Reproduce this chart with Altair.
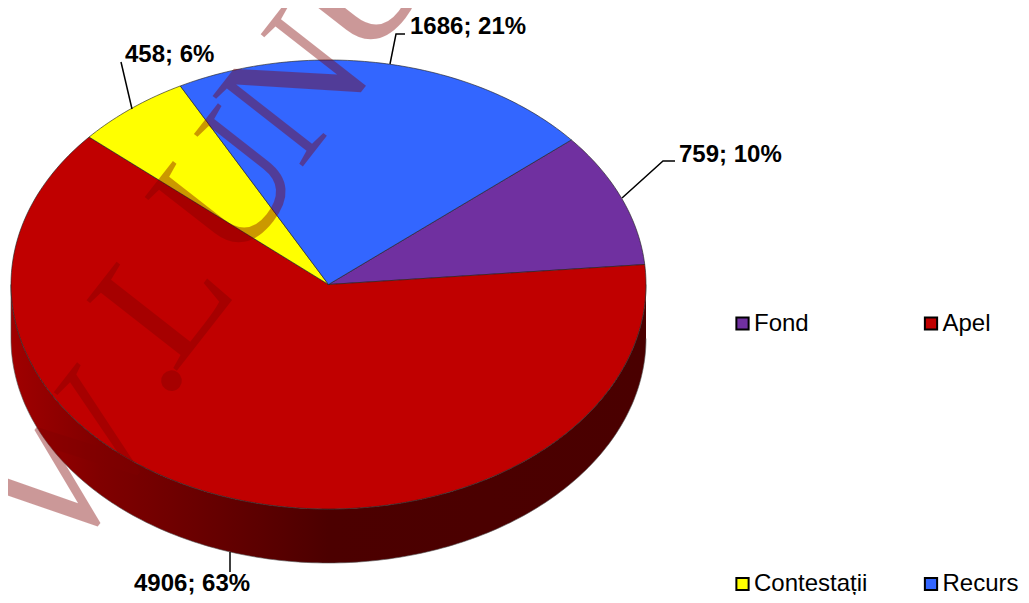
import math
import altair as alt
import pandas as pd

categories = ["Fond", "Apel", "Contestații", "Recurs"]
values = [759, 4906, 458, 1686]
percents = [10, 63, 6, 21]
colors = ["#7030A0", "#C00000", "#FFFF00", "#3366FF"]

# pie geometry (page pixels)
W, H = 1013, 587
CX, CY, RX, RY, DEPTH = 328.5, 284.5, 317.5, 224.5, 54
START = 49.9
total = sum(values)

X = alt.X("x:Q", scale=alt.Scale(domain=[8, 8 + W], nice=False, zero=False), axis=None)
Y = alt.Y("y:Q", scale=alt.Scale(domain=[8, 8 + H], reverse=True, nice=False, zero=False), axis=None)


def pt(deg, dy=0.0):
    r = math.radians(deg)
    return CX + RX * math.sin(r), CY - RY * math.cos(r) + dy


layers = []

# side wall
wall = []
for d in range(90, 271):
    wall.append(pt(d))
for d in range(270, 89, -1):
    wall.append(pt(d, DEPTH))
wall_df = pd.DataFrame(wall, columns=["x", "y"]).assign(i=range(len(wall)))
grad = alt.Gradient(
    gradient="linear", x1=0, x2=1, y1=0, y2=0,
    stops=[
        alt.GradientStop(color="#A00000", offset=0),
        alt.GradientStop(color="#800000", offset=0.14),
        alt.GradientStop(color="#4C0000", offset=0.5),
        alt.GradientStop(color="#4A0000", offset=1),
    ],
)
layers.append(
    alt.Chart(wall_df).mark_line(fill=grad, stroke="#555555", strokeWidth=0.6).encode(x=X, y=Y, order="i:Q")
)

# top slices
a = START
for cat, v, col in zip(categories, values, colors):
    sweep = v / total * 360
    n = max(int(sweep), 2)
    pts = [(CX, CY)] + [pt(a + sweep * k / n) for k in range(n + 1)] + [(CX, CY)]
    df = pd.DataFrame(pts, columns=["x", "y"]).assign(i=range(len(pts)))
    layers.append(
        alt.Chart(df).mark_line(fill=col, stroke="#222222", strokeWidth=0.8, strokeOpacity=0.8, strokeJoin="miter")
        .encode(x=X, y=Y, order="i:Q")
    )
    a += sweep

# watermark
wm_letters = ["W", ".", "L", "U", "N", "U"]
wm_x = [75, 136, 165, 230, 297, 362]
wm_y = [465, 353, 300, 188, 88, -15]
wm_df = pd.DataFrame({"t": wm_letters, "x": wm_x, "y": wm_y})
layers.append(
    alt.Chart(wm_df).mark_text(
        font="Liberation Serif", fontSize=175, angle=308, color="#800000", opacity=0.4,
        align="center", baseline="middle",
    ).encode(x=X, y=Y, text="t:N")
)

# leader lines
leaders = [
    [(622, 198), (663, 161), (675, 161)],
    [(230, 552), (230, 572)],
    [(132, 109), (121, 62)],
    [(390, 64), (396, 34), (405, 34)],
]
for seg in leaders:
    df = pd.DataFrame(seg, columns=["x", "y"]).assign(i=range(len(seg)))
    layers.append(
        alt.Chart(df).mark_line(color="#000000", strokeWidth=1.5).encode(x=X, y=Y, order="i:Q")
    )

# data labels
label_x = [679, 134, 125, 410]
label_y = [155, 584, 55, 27]
lab_df = pd.DataFrame({
    "t": [f"{v}; {p}%" for v, p in zip(values, percents)],
    "x": label_x, "y": label_y,
})
layers.append(
    alt.Chart(lab_df).mark_text(
        font="Liberation Sans", fontSize=24, fontWeight="bold", color="#000000",
        align="left", baseline="middle",
    ).encode(x=X, y=Y, text="t:N")
)

# legend
leg_x = [742.5, 931, 742.5, 931]
leg_y = [323.5, 323.5, 584, 584]
leg_df = pd.DataFrame({"cat": categories, "col": colors, "x": leg_x, "y": leg_y})
leg_df["tx"] = leg_df["x"] + 11.5
layers.append(
    alt.Chart(leg_df).mark_point(shape="square", filled=True, size=150, stroke="#000000", strokeWidth=2, opacity=1)
    .encode(x=X, y=Y, fill=alt.Fill("col:N", scale=None))
)
layers.append(
    alt.Chart(leg_df).mark_text(
        font="Liberation Sans", fontSize=24, color="#000000", align="left", baseline="middle",
    ).encode(x=alt.X("tx:Q", scale=alt.Scale(domain=[8, 8 + W], nice=False, zero=False), axis=None), y=Y, text="cat:N")
)

chart = alt.layer(*layers).properties(
    width=W, height=H, padding=0, autosize=alt.AutoSizeParams(type="none"),
    background="#ffffff",
).configure_view(stroke=None)
chart.save("out.html", embed_options={"renderer": "svg", "actions": False})
